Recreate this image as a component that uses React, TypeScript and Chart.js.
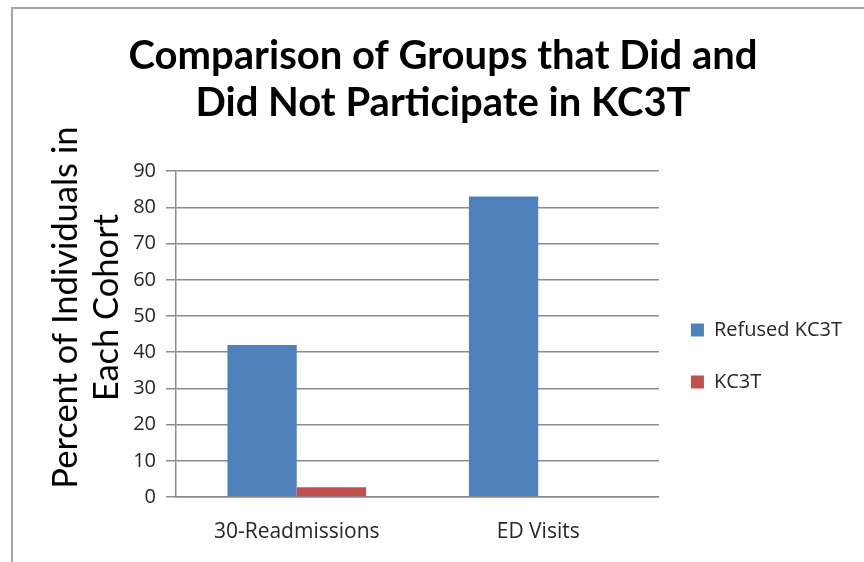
import React, { useEffect, useRef } from "react";
import { Chart, registerables } from "chart.js";

Chart.register(...registerables);

const titleLines = ["Comparison of Groups that Did and", "Did Not Participate in KC3T"];
const yTitleLines = ["Percent of Individuals in", "Each Cohort"];
const categories = ["30-Readmissions", "ED Visits"];
const seriesNames = ["Refused KC3T", "KC3T"];
const refusedValues = [42, 83];
const kc3tValues = [2.7, 0];
const yMin = 0;
const yMax = 90;
const yStep = 10;

const BLUE = "#4F81BD";
const RED = "#C0504D";
const GRID = "#8c8c8c";
const TITLE_INDENT = "      ";

export default function App() {
  const ref = useRef<HTMLCanvasElement | null>(null);

  useEffect(() => {
    if (!ref.current) return;
    const chart = new Chart(ref.current, {
      type: "bar",
      data: {
        labels: categories,
        datasets: [
          { label: seriesNames[0], data: refusedValues, backgroundColor: BLUE, borderWidth: 0 },
          { label: seriesNames[1], data: kc3tValues, backgroundColor: RED, borderWidth: 0 },
        ],
      },
      options: {
        animation: false,
        responsive: true,
        maintainAspectRatio: false,
        layout: { padding: { left: 34, right: 12, top: 0, bottom: 0 } },
        datasets: { bar: { categoryPercentage: 0.574, barPercentage: 1 } },
        plugins: {
          title: {
            display: true,
            text: titleLines,
            color: "#000",
            font: { family: "Lato", size: 40, weight: "bold", lineHeight: 1.19 },
            padding: { top: 32, bottom: 44 },
          },
          legend: {
            display: true,
            position: "right",
            fullSize: false,
            title: {
              display: true,
              text: "",
              padding: 0,
              font: { family: "Open Sans", size: 20, lineHeight: 2.2 },
            },
            labels: {
              boxWidth: 13,
              boxHeight: 13,
              padding: 32,
              color: "#262626",
              font: { family: "Open Sans", size: 20 },
            },
          },
          tooltip: { enabled: false },
        },
        scales: {
          x: {
            grid: { display: false, drawTicks: false },
            border: { display: true, color: GRID, width: 1.5 },
            ticks: { color: "#262626", font: { family: "Open Sans", size: 21 }, padding: 22 },
            afterFit: (s: any) => { s.height = 65; },
          },
          y: {
            min: yMin,
            max: yMax,
            ticks: {
              stepSize: yStep,
              color: "#262626",
              font: { family: "Open Sans", size: 20 },
              padding: 10,
            },
            grid: { color: GRID, lineWidth: 1.5, tickLength: 10 },
            border: { display: true, color: GRID, width: 1.5 },
            title: {
              display: true,
              text: yTitleLines.map((t) => TITLE_INDENT + t),
              color: "#000",
              font: { family: "Lato", size: 34.5, lineHeight: 1.18 },
              padding: { top: 12, bottom: 0 },
            },
            afterFit: (s: any) => { s.width = 142; },
          },
        },
      },
    });
    return () => chart.destroy();
  }, []);

  return (
    <div style={{ position: "absolute", left: 0, top: 0, width: 864, height: 562, background: "#fff" }}>
      <canvas ref={ref} />
      <div
        style={{
          position: "absolute",
          left: 11,
          top: 7,
          right: 0,
          bottom: 0,
          borderTop: "2px solid #a6a6a6",
          borderLeft: "2px solid #a6a6a6",
          pointerEvents: "none",
        }}
      />
    </div>
  );
}
